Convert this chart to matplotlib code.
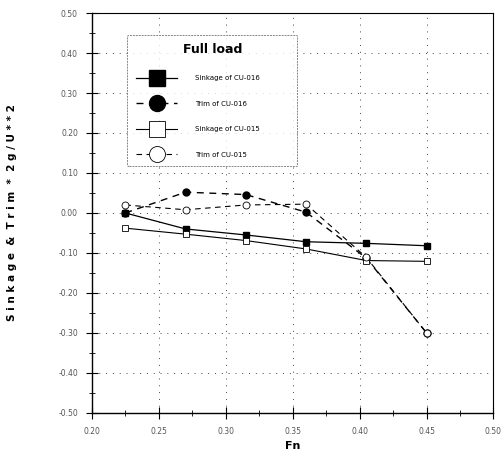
import matplotlib
matplotlib.use("Agg")
import matplotlib.pyplot as plt
from matplotlib.ticker import MultipleLocator, FormatStrFormatter

# Froude number
fn = [0.225, 0.270, 0.315, 0.360, 0.405, 0.450]

# non-dimensional sinkage & trim (* 2g/U**2)
sinkage_016 = [0.000, -0.040, -0.055, -0.072, -0.076, -0.082]
trim_016 = [0.000, 0.052, 0.046, 0.002, -0.113, -0.300]
sinkage_015 = [-0.038, -0.053, -0.069, -0.090, -0.119, -0.121]
trim_015 = [0.020, 0.008, 0.020, 0.022, -0.111, -0.300]

labels = ["Sinkage of CU-016", "Trim of CU-016", "Sinkage of CU-015", "Trim of CU-015"]

fig = plt.figure(figsize=(5.02, 4.66), dpi=100)
ax = fig.add_axes([0.183, 0.114, 0.80, 0.858])

# series
ax.plot(fn, sinkage_016, "-", color="black", lw=0.9, marker="s", ms=5,
        mfc="black", label=labels[0])
ax.plot(fn, trim_016, "--", color="black", lw=1.0, marker="o", ms=5,
        mfc="black", dashes=(5, 4), label=labels[1])
ax.plot(fn, sinkage_015, "-", color="black", lw=0.8, marker="s", ms=5,
        mfc="white", mew=0.6, label=labels[2])
ax.plot(fn, trim_015, "--", color="black", lw=0.8, marker="o", ms=5,
        mfc="white", mew=0.6, dashes=(5, 4), label=labels[3])

# axes, ticks and grid
ax.set_xlim(0.20, 0.50)
ax.set_ylim(-0.50, 0.50)
ax.xaxis.set_major_locator(MultipleLocator(0.05))
ax.xaxis.set_minor_locator(MultipleLocator(0.025))
ax.yaxis.set_major_locator(MultipleLocator(0.10))
ax.yaxis.set_minor_locator(MultipleLocator(0.05))
ax.xaxis.set_major_formatter(FormatStrFormatter("%.2f"))
ax.yaxis.set_major_formatter(FormatStrFormatter("%.2f"))
ax.tick_params(which="major", direction="inout", length=8, width=0.8,
               labelsize=5.5, labelcolor="#555555", pad=6)
ax.tick_params(which="minor", direction="inout", length=5, width=0.6)
ax.tick_params(top=False, right=False)
ax.grid(True, which="major", linestyle=(0, (1, 6)), color="#444444", lw=0.7)

for side in ["left", "bottom"]:
    ax.spines[side].set_linewidth(1.0)
for side in ["top", "right"]:
    ax.spines[side].set_linewidth(0.8)

ax.set_xlabel("Fn", fontsize=8, fontweight="bold", labelpad=4)
ax.set_ylabel("S i n k a g e  &  T r i m  *  2 g / U * * 2", fontsize=7.5,
              fontweight="bold", labelpad=30)

# legend box roughly 125..300 px wide, 33..165 px tall in the figure
leg = ax.legend(title="Full load", loc="upper left", mode="expand",
                bbox_to_anchor=(0.08, 0.955, 0.44, 0.0), fontsize=5,
                title_fontsize=9, handlelength=6, handletextpad=2.5,
                labelspacing=2.8, borderpad=1.2, frameon=True, fancybox=True,
                markerscale=2.3)
leg.get_title().set_fontweight("bold")
leg.get_frame().set_edgecolor("#666666")
leg.get_frame().set_linestyle((0, (2, 1)))
leg.get_frame().set_linewidth(0.7)

fig.savefig("out.png", dpi=100)
